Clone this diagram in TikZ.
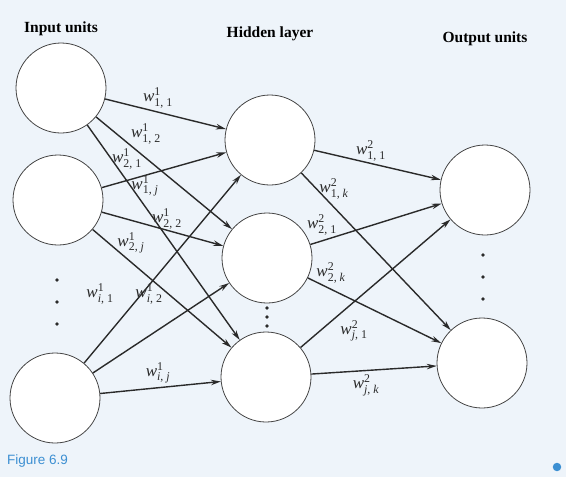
\documentclass[tikz,border=0pt]{standalone}
\usepackage{amsmath}
\usepackage{fontspec}
\setmainfont{Liberation Serif}
\setsansfont{Liberation Sans}
\usetikzlibrary{arrows.meta}

\definecolor{bg}{HTML}{EEF4FA}
\definecolor{unitline}{HTML}{444444}
\definecolor{edgeline}{HTML}{2A2A2A}
\definecolor{figblue}{HTML}{3C8FD2}

\newcommand{\wgt}[3]{$\text{\itshape w}^{\text{#1}}_{\text{#2, #3}}$}

\tikzstyle{unit}=[circle, draw={unitline}, fill=white, minimum size=90pt, inner sep=0pt, line width=0.8pt]
\tikzstyle{weight}=[-{Stealth[length=10pt, width=5.5pt]}, draw={edgeline}, line width=1.4pt]
\tikzstyle{wlabel}=[inner sep=0pt, text={edgeline}, font=\fontsize{17}{17}\selectfont]
\tikzstyle{title}=[inner sep=0pt, font=\fontsize{15.5}{17}\selectfont\bfseries]
\tikzstyle{vdot}=[circle, fill={edgeline}, inner sep=1.3pt]

\begin{document}
\begin{tikzpicture}[x=1pt, y=-1pt]
      \fill[bg] (0,0) rectangle (566,477);
      \useasboundingbox (0,0) rectangle (566,477);

      % layer titles
      \node (tin) at (61, 29) [title] {Input units};
      \node (thid) at (270, 34) [title] {Hidden layer};
      \node (tout) at (485, 39) [title] {Output units};

      % units
      \node (in1) at (61, 88) [unit] {};
      \node (in2) at (58, 200) [unit] {};
      \node (in3) at (55, 398) [unit] {};
      \node (hid1) at (270, 140) [unit] {};
      \node (hid2) at (267, 258) [unit] {};
      \node (hid3) at (266, 377) [unit] {};
      \node (out1) at (485, 190) [unit] {};
      \node (out2) at (482, 363) [unit] {};

      % vertical dots
      \node (din1) at (57, 280) [vdot] {};
      \node (din2) at (57, 302) [vdot] {};
      \node (din3) at (57, 324) [vdot] {};
      \node (dhid1) at (267, 308) [vdot] {};
      \node (dhid2) at (267, 317) [vdot] {};
      \node (dhid3) at (267, 326) [vdot] {};
      \node (dout1) at (483, 255) [vdot] {};
      \node (dout2) at (483, 277) [vdot] {};
      \node (dout3) at (483, 299) [vdot] {};

      % input to hidden
      \draw[weight] (in1) -- (hid1);
      \draw[weight] (in1) -- (hid2);
      \draw[weight] (in1) -- (hid3);
      \draw[weight] (in2) -- (hid1);
      \draw[weight] (in2) -- (hid2);
      \draw[weight] (in2) -- (hid3);
      \draw[weight] (in3) -- (hid1);
      \draw[weight] (in3) -- (hid2);
      \draw[weight] (in3) -- (hid3);

      % hidden to output
      \draw[weight] (hid1) -- (out1);
      \draw[weight] (hid1) -- (out2);
      \draw[weight] (hid2) -- (out1);
      \draw[weight] (hid2) -- (out2);
      \draw[weight] (hid3) -- (out1);
      \draw[weight] (hid3) -- (out2);

      % weights
      \node (w11) at (158, 98) [wlabel] {\wgt{1}{1}{1}};
      \node (w12) at (146, 134) [wlabel] {\wgt{1}{1}{2}};
      \node (w21) at (127, 159) [wlabel] {\wgt{1}{2}{1}};
      \node (w1j) at (145, 186) [wlabel] {\wgt{1}{1}{{\itshape j}}};
      \node (w22) at (167, 219) [wlabel] {\wgt{1}{2}{2}};
      \node (w2j) at (131, 243) [wlabel] {\wgt{1}{2}{{\itshape j}}};
      \node (wi1) at (100, 294) [wlabel] {\wgt{1}{{\itshape i}}{1}};
      \node (wi2) at (149, 294) [wlabel] {\wgt{1}{{\itshape i}}{2}};
      \node (wij) at (158, 373) [wlabel] {\wgt{1}{{\itshape i}}{{\itshape j}}};
      \node (v11) at (371, 151) [wlabel] {\wgt{2}{1}{1}};
      \node (v1k) at (334, 189) [wlabel] {\wgt{2}{1}{{\itshape k}}};
      \node (v21) at (322, 225) [wlabel] {\wgt{2}{2}{1}};
      \node (v2k) at (331, 273) [wlabel] {\wgt{2}{2}{{\itshape k}}};
      \node (vj1) at (354, 331) [wlabel] {\wgt{2}{{\itshape j}}{1}};
      \node (vjk) at (366, 385) [wlabel] {\wgt{2}{{\itshape j}}{{\itshape k}}};

      % caption
      \node (fig) at (7, 461) [anchor=west, inner sep=0pt, text={figblue}, font=\sffamily\fontsize{13.5}{14}\selectfont] {Figure 6.9};
      \node (mark) at (557, 467) [circle, fill={figblue}, inner sep=3pt] {};
\end{tikzpicture}
\end{document}
